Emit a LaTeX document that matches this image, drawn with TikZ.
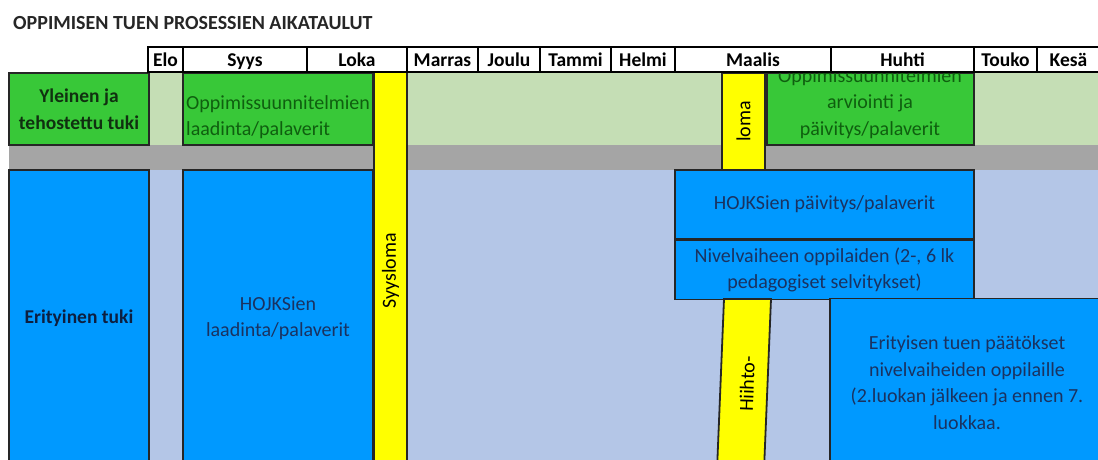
\documentclass[tikz,border=0pt]{standalone}
\usepackage{fontspec}
\setmainfont{Carlito}
\definecolor{bandgreen}{HTML}{C5DEB5}
\definecolor{bandgray}{HTML}{A5A5A5}
\definecolor{bandblue}{HTML}{B4C6E7}
\definecolor{boxgreen}{HTML}{38C838}
\definecolor{boxblue}{HTML}{0099FF}
\definecolor{txtblue}{HTML}{1A3260}
\definecolor{txtnavy}{HTML}{0D1F40}
\definecolor{txtgreen}{HTML}{0F5F0F}
\definecolor{txtdkgreen}{HTML}{103010}
\definecolor{ybarcol}{HTML}{FFFF00}
\begin{document}
\begin{tikzpicture}[x=1pt,y=-1pt,
  every node/.style={font=\fontsize{20}{26.5}\selectfont},
  hdr/.style={draw=black, line width=1.2pt, fill=white, minimum height=25pt, inner sep=0pt,
    text height=14pt, text depth=0pt, font=\fontsize{19.5}{26.5}\selectfont\bfseries},
  gbox/.style={draw=black!85, line width=1.8pt, fill=boxgreen, inner sep=0pt},
  bbox/.style={draw=black!85, line width=1.8pt, fill=boxblue, inner sep=0pt, text=txtblue, align=center},
  ybar/.style={draw=black!85, line width=1.8pt, fill=ybarcol, inner sep=0pt}]
\useasboundingbox (0,0) rectangle (1098,460);
\clip (0,0) rectangle (1098,460);
% background bands
\fill[bandgreen] (9,72) rectangle (1110,145);
\fill[bandgray] (9,145) rectangle (1110,170);
\fill[bandblue] (9,170) rectangle (1110,480);
% green boxes
\node[gbox, minimum width=140pt, minimum height=72pt, text=txtdkgreen, align=center,
  font=\fontsize{19.5}{26.5}\selectfont\bfseries] (yleinen) at (79,109) {Yleinen ja\\tehostettu tuki};
\node[gbox, minimum width=190pt, minimum height=72pt] (oppbox) at (278,109) {};
\node[anchor=west, align=left, text=txtgreen, inner sep=0pt] (opptxt) at (186,117) {Oppimissuunnitelmien\\laadinta/palaverit};
\node[gbox, minimum width=207pt, minimum height=72pt] (arviobox) at (870.5,109) {};
\begin{scope}
\clip (767,73.5) rectangle (974,145);
\node[align=center, text=txtgreen, inner sep=0pt] (arviotxt) at (870,103.5) {Oppimissuunnitelmien\\arviointi ja\\päivitys/palaverit};
\end{scope}
% blue boxes
\node[bbox, minimum width=140pt, minimum height=296pt, text=txtnavy,
  font=\fontsize{19.5}{26.5}\selectfont\bfseries] (erit) at (79,318) {Erityinen tuki};
\node[bbox, minimum width=190pt, minimum height=296pt] (hojks1) at (278,318) {HOJKSien\\laadinta/palaverit};
\node[bbox, minimum width=299pt, minimum height=69pt] (hojks2) at (824.5,204.5) {HOJKSien päivitys/palaverit};
\node[bbox, minimum width=299pt, minimum height=59pt] (nivel) at (824.5,270) {Nivelvaiheen oppilaiden (2-, 6 lk\\pedagogiset selvitykset)};
\node[bbox, minimum width=274pt, minimum height=168pt] (paatos) at (967,382.5) {Erityisen tuen päätökset\\nivelvaiheiden oppilaille\\(2.luokan jälkeen ja ennen 7.\\luokkaa.};
% yellow holiday bars
\node[ybar, rotate=90, minimum width=397pt, minimum height=33pt] (syysloma) at (390.5,271) {Syysloma};
\node[ybar, rotate=90, minimum width=97pt, minimum height=43pt] (loma) at (743.5,121.5) {loma};
\coordinate (h1) at (724,299);
\coordinate (h2) at (771,299);
\coordinate (h3) at (764,470);
\coordinate (h4) at (717,470);
\draw[ybar] (h1) -- (h2) -- (h3) -- (h4) -- cycle;
\node[rotate=88, inner sep=0pt] (hiihto) at (747,384) {Hiihto-};
% header row
\node[hdr, minimum width=35pt] (elo) at (165.5,59.5) {Elo};
\node[hdr, minimum width=124pt] (syys) at (245,59.5) {Syys};
\node[hdr, minimum width=100pt] (loka) at (357,59.5) {Loka};
\node[hdr, minimum width=71pt] (marras) at (442.5,59.5) {Marras};
\node[hdr, minimum width=62pt] (joulu) at (509,59.5) {Joulu};
\node[hdr, minimum width=71pt] (tammi) at (575.5,59.5) {Tammi};
\node[hdr, minimum width=64pt] (helmi) at (643,59.5) {Helmi};
\node[hdr, minimum width=156pt] (maalis) at (753,59.5) {Maalis};
\node[hdr, minimum width=143pt] (huhti) at (902.5,59.5) {Huhti};
\node[hdr, minimum width=63pt] (touko) at (1005.5,59.5) {Touko};
\node[hdr, minimum width=63pt] (kesa) at (1068.5,59.5) {Kesä};
% title
\node[anchor=base west, inner sep=0pt, text=black!85, font=\fontsize{20}{24}\selectfont\bfseries] (title) at (13,30) {OPPIMISEN TUEN PROSESSIEN AIKATAULUT};
\end{tikzpicture}
\end{document}
